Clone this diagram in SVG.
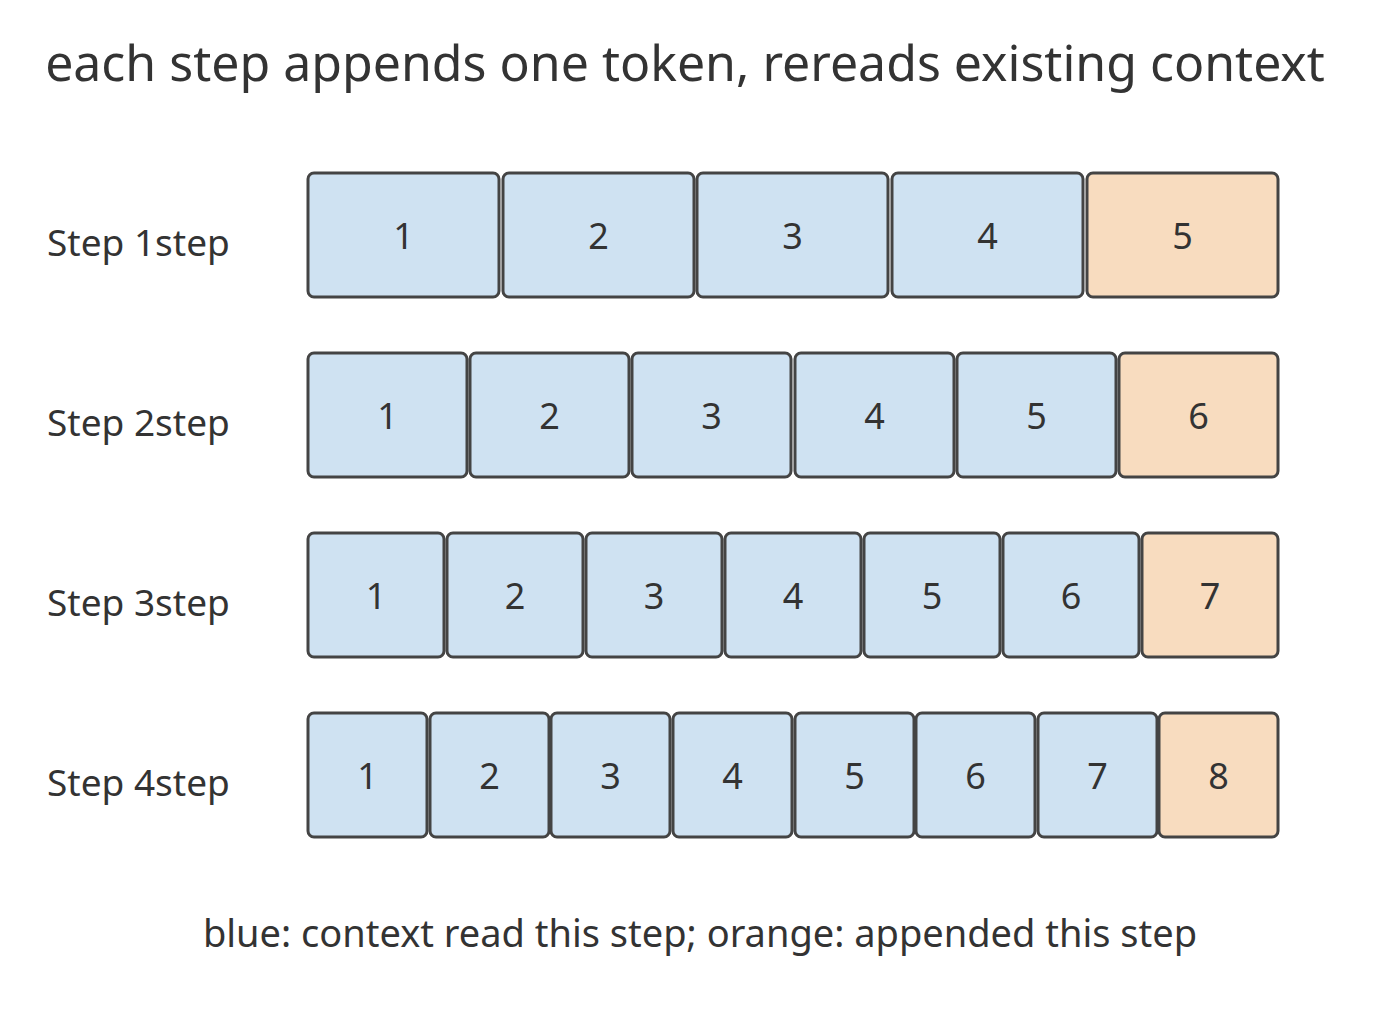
<svg xmlns="http://www.w3.org/2000/svg" width="1400" height="1011" viewBox="0 0 1400 1011">
<style>
text{font-family:"Noto Sans","Open Sans",sans-serif;fill:#333}
.b{fill:#cfe2f2;stroke:#444;stroke-width:3}
.o{fill:#f8dcbf;stroke:#444;stroke-width:3}
.n{font-size:36px;text-anchor:middle;dominant-baseline:central}
.l{font-size:37px;dominant-baseline:central}
</style>
<rect width="1400" height="1011" fill="#fff"/>
<text x="685" y="62" font-size="50" text-anchor="middle" dominant-baseline="central">each step appends one token, rereads existing context</text>
<g id="row1">
<text class="l" x="47" y="241">Step 1step</text>
<rect class="b" x="308" y="173" width="191" height="124" rx="6"/><text class="n" x="403.5" y="235">1</text>
<rect class="b" x="503" y="173" width="191" height="124" rx="6"/><text class="n" x="598.5" y="235">2</text>
<rect class="b" x="697" y="173" width="191" height="124" rx="6"/><text class="n" x="792.5" y="235">3</text>
<rect class="b" x="892" y="173" width="191" height="124" rx="6"/><text class="n" x="987.5" y="235">4</text>
<rect class="o" x="1087" y="173" width="191" height="124" rx="6"/><text class="n" x="1182.5" y="235">5</text>
</g>
<g id="row2">
<text class="l" x="47" y="421">Step 2step</text>
<rect class="b" x="308" y="353" width="159" height="124" rx="6"/><text class="n" x="387.5" y="415">1</text>
<rect class="b" x="470" y="353" width="159" height="124" rx="6"/><text class="n" x="549.5" y="415">2</text>
<rect class="b" x="632" y="353" width="159" height="124" rx="6"/><text class="n" x="711.5" y="415">3</text>
<rect class="b" x="795" y="353" width="159" height="124" rx="6"/><text class="n" x="874.5" y="415">4</text>
<rect class="b" x="957" y="353" width="159" height="124" rx="6"/><text class="n" x="1036.5" y="415">5</text>
<rect class="o" x="1119" y="353" width="159" height="124" rx="6"/><text class="n" x="1198.5" y="415">6</text>
</g>
<g id="row3">
<text class="l" x="47" y="601">Step 3step</text>
<rect class="b" x="308" y="533" width="136" height="124" rx="6"/><text class="n" x="376" y="595">1</text>
<rect class="b" x="447" y="533" width="136" height="124" rx="6"/><text class="n" x="515" y="595">2</text>
<rect class="b" x="586" y="533" width="136" height="124" rx="6"/><text class="n" x="654" y="595">3</text>
<rect class="b" x="725" y="533" width="136" height="124" rx="6"/><text class="n" x="793" y="595">4</text>
<rect class="b" x="864" y="533" width="136" height="124" rx="6"/><text class="n" x="932" y="595">5</text>
<rect class="b" x="1003" y="533" width="136" height="124" rx="6"/><text class="n" x="1071" y="595">6</text>
<rect class="o" x="1142" y="533" width="136" height="124" rx="6"/><text class="n" x="1210" y="595">7</text>
</g>
<g id="row4">
<text class="l" x="47" y="781">Step 4step</text>
<rect class="b" x="308" y="713" width="119" height="124" rx="6"/><text class="n" x="367.5" y="775">1</text>
<rect class="b" x="430" y="713" width="119" height="124" rx="6"/><text class="n" x="489.5" y="775">2</text>
<rect class="b" x="551" y="713" width="119" height="124" rx="6"/><text class="n" x="610.5" y="775">3</text>
<rect class="b" x="673" y="713" width="119" height="124" rx="6"/><text class="n" x="732.5" y="775">4</text>
<rect class="b" x="795" y="713" width="119" height="124" rx="6"/><text class="n" x="854.5" y="775">5</text>
<rect class="b" x="916" y="713" width="119" height="124" rx="6"/><text class="n" x="975.5" y="775">6</text>
<rect class="b" x="1038" y="713" width="119" height="124" rx="6"/><text class="n" x="1097.5" y="775">7</text>
<rect class="o" x="1159" y="713" width="119" height="124" rx="6"/><text class="n" x="1218.5" y="775">8</text>
</g>
<g id="connectors"/>
<text x="700" y="932" font-size="38" text-anchor="middle" dominant-baseline="central">blue: context read this step; orange: appended this step</text>
</svg>
